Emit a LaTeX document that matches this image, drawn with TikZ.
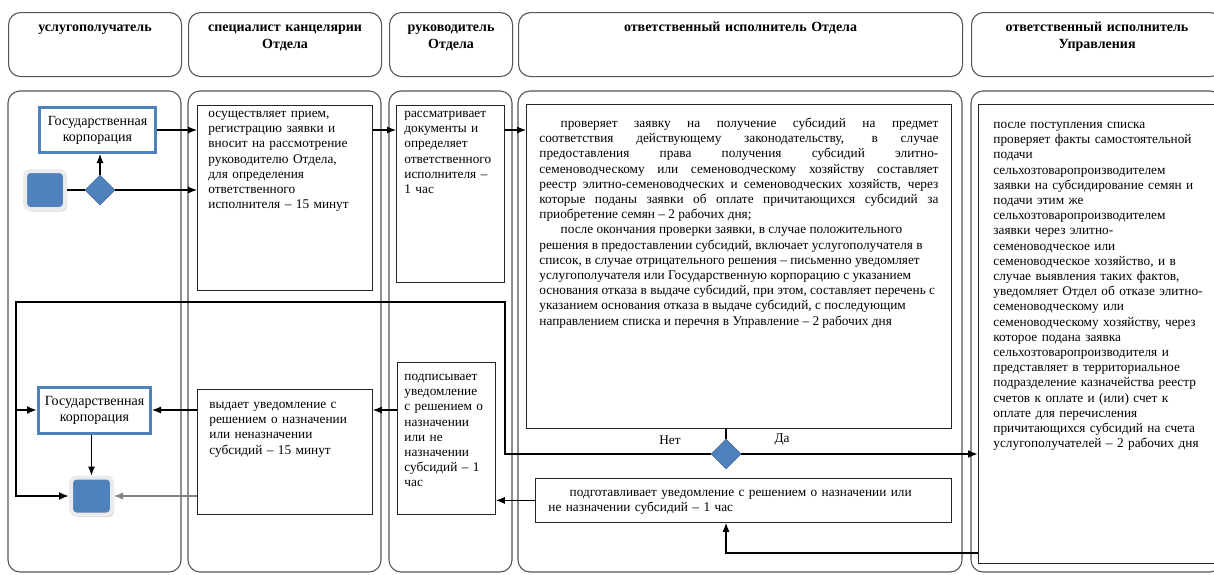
\documentclass[tikz,border=0pt]{standalone}
\usepackage{fontspec}
\setmainfont{Liberation Serif}
\usetikzlibrary{arrows.meta}
\usetikzlibrary{shapes.geometric}
\usetikzlibrary{shadows}

\definecolor{bpmblue}{HTML}{4F81BD}
\definecolor{laneline}{HTML}{555555}

\begin{document}
\begin{tikzpicture}[x=1pt, y=-1pt, font=\fontsize{13.3}{15.2}\selectfont,
    lanehead/.style={draw=laneline, line width=1.1pt, rounded corners=12pt, anchor=north west,
      text height=9pt, text depth=35pt, inner xsep=6pt, inner ysep=10pt, align=center,
      font=\fontsize{14}{17}\selectfont\bfseries},
    lanebody/.style={draw=laneline, line width=1.1pt, rounded corners=12pt},
    act/.style={draw=black!85, line width=0.8pt, fill=white, anchor=north west, text height=9pt, align=left},
    org/.style={draw=bpmblue, line width=3pt, fill=white, minimum width=116pt, minimum height=45pt,
      align=center, font=\fontsize{14}{16}\selectfont,
      drop shadow={shadow xshift=1.5pt, shadow yshift=-1.5pt, opacity=0.3}},
    event/.style={fill=bpmblue, draw=black!8, line width=4pt, rounded corners=5pt,
      minimum width=40pt, minimum height=38pt, drop shadow={shadow xshift=2pt, shadow yshift=-2.5pt, opacity=0.35}},
    gate/.style={diamond, fill=bpmblue, draw=bpmblue!80!black, line width=0.5pt,
      minimum width=30pt, minimum height=30pt, inner sep=0pt},
    arr/.style={line width=1.1pt, -{Latex[length=9pt,width=7pt]}},
    backflow/.style={line width=2pt, -{Latex[length=10pt,width=8pt]}},
  ]
    \useasboundingbox (0,0) rectangle (1214,574);

    \node[lanehead, text width=161pt] (hd1) at (8,12) {услугополучатель};
    \node[lanehead, text width=181pt] (hd2) at (188,12) {специалист канцелярии\\Отдела};
    \node[lanehead, text width=111pt] (hd3) at (389,12) {руководитель\\Отдела};
    \node[lanehead, text width=432pt] (hd4) at (518,12) {ответственный исполнитель Отдела};
    \node[lanehead, text width=239pt] (hd5) at (971,12) {ответственный исполнитель\\Управления};

    \draw[lanebody] (8,91) rectangle (181,572);
    \draw[lanebody] (188,91) rectangle (381,572);
    \draw[lanebody] (389,91) rectangle (512,572);
    \draw[lanebody] (518,91) rectangle (962,572);
    \draw[lanebody] (971,91) rectangle (1222,572);

    \node[org] (gk1) at (97.5,130) {Государственная\\корпорация};
    \node[event] (start) at (45,190) {};
    \node[gate] (d1) at (100,190) {};

    \node[act, inner xsep=11pt, inner ysep=3pt, text width=153pt, text depth=170pt] (reg) at (197,105)
      {осуществляет прием,\\регистрацию заявки и\\вносит на рассмотрение\\руководителю Отдела,\\для определения\\ответственного\\исполнителя – 15 минут};
    \node[act, inner xsep=8pt, inner ysep=3pt, text width=92pt, text depth=162pt] (rev) at (396,105)
      {рассматривает\\документы и\\определяет\\ответственного\\исполнителя –\\1 час};
    \node[act, align=justify, inner xsep=13pt, inner ysep=14pt, text width=399pt, text depth=287pt] (chk) at (526,104)
      {\hspace*{1.6em}проверяет заявку на получение субсидий на предмет\linebreak
      соответствия действующему законодательству, в случае\linebreak
      предоставления права получения субсидий элитно-\linebreak
      семеноводческому или семеноводческому хозяйству составляет\linebreak
      реестр элитно-семеноводческих и семеноводческих хозяйств, через\linebreak
      которые поданы заявки об оплате причитающихся субсидий за\linebreak
      приобретение семян – 2 рабочих дня;\par
      \hspace*{1.6em}после окончания проверки заявки, в случае положительного\newline
      решения в предоставлении субсидий, включает услугополучателя в\newline
      список, в случае отрицательного решения – письменно уведомляет\newline
      услугополучателя или Государственную корпорацию с указанием\newline
      основания отказа в выдаче субсидий, при этом, составляет перечень с\newline
      указанием основания отказа в выдаче субсидий, с последующим\newline
      направлением списка и перечня в Управление – 2 рабочих дня};
    \node[act, inner xsep=15pt, inner ysep=15pt, text width=210pt, text depth=420pt] (upr) at (978,104)
      {после поступления списка\\проверяет факты самостоятельной\\подачи\\сельхозтоваропроизводителем\\заявки на субсидирование семян и\\подачи этим же\\сельхозтоваропроизводителем\\заявки через элитно-\\семеноводческое или\\семеноводческое хозяйство, и в\\случае выявления таких фактов,\\уведомляет Отдел об отказе элитно-\\семеноводческому или\\семеноводческому хозяйству, через\\которое подана заявка\\сельхозтоваропроизводителя и\\представляет в территориальное\\подразделение казначейства реестр\\счетов к оплате и (или) счет к\\оплате для перечисления\\причитающихся субсидий на счета\\услугополучателей – 2 рабочих дня};

    \node[gate] (d2) at (726,454) {};
    \node (no) at (670,440) {Нет};
    \node (yes) at (782,440) {Да};

    \node[act, inner xsep=13pt, inner ysep=9pt, text width=390pt, text depth=17pt] (prep) at (535,478)
      {\hspace*{1.6em}подготавливает уведомление с решением о назначении или\\не назначении субсидий – 1 час};
    \node[act, inner xsep=7pt, inner ysep=9pt, text width=84pt, text depth=125pt] (sign) at (397,362)
      {подписывает\\уведомление\\с решением о\\назначении\\или не\\назначении\\субсидий – 1\\час};
    \node[act, inner xsep=12pt, inner ysep=10pt, text width=151pt, text depth=96pt] (issue) at (197,389)
      {выдает уведомление с\\решением о назначении\\или неназначении\\субсидий – 15 минут};
    \node[org, minimum width=112pt, minimum height=46pt] (gk2) at (94.5,410) {Государственная\\корпорация};
    \node[event, minimum width=41pt, minimum height=37pt] (stop) at (91.5,496) {};

    \draw[arr] (gk1.east) -- (gk1.east -| reg.west);
    \draw[line width=1.1pt] (start.east) -- (d1.west);
    \draw[arr] (d1.north) -- (d1.north |- gk1.south);
    \draw[arr] (d1.east) -- (d1.east -| reg.west);
    \draw[arr] (reg.east |- gk1.east) -- (rev.west |- gk1.east);
    \draw[arr] (rev.east |- gk1.east) -- (chk.west |- gk1.east);

    \draw[line width=1.6pt] (d2.north |- chk.south) -- (d2.north);
    \coordinate (tr) at (505,302);
    \coordinate (tl) at (16,302);
    \draw[backflow] (d2.west) -| (tr) -- (tl) |- (stop.west);
    \draw[backflow] (tl |- gk2.west) -- (gk2.west);
    \draw[backflow] (d2.east) -- (d2.east -| upr.west);

    \coordinate (ret) at (978,553);
    \draw[arr] (ret) -| (d2 |- prep.south);
    \draw[arr] (prep.west) -- (prep.west -| sign.east);
    \draw[arr] (sign.west |- gk2.east) -- (issue.east |- gk2.east);
    \draw[arr] (issue.west |- gk2.east) -- (gk2.east);
    \draw[arr] (stop.north |- gk2.south) -- (stop.north);
    \draw[arr, color=gray] (issue.west |- stop.east) -- (stop.east);
  \end{tikzpicture}
\end{document}
